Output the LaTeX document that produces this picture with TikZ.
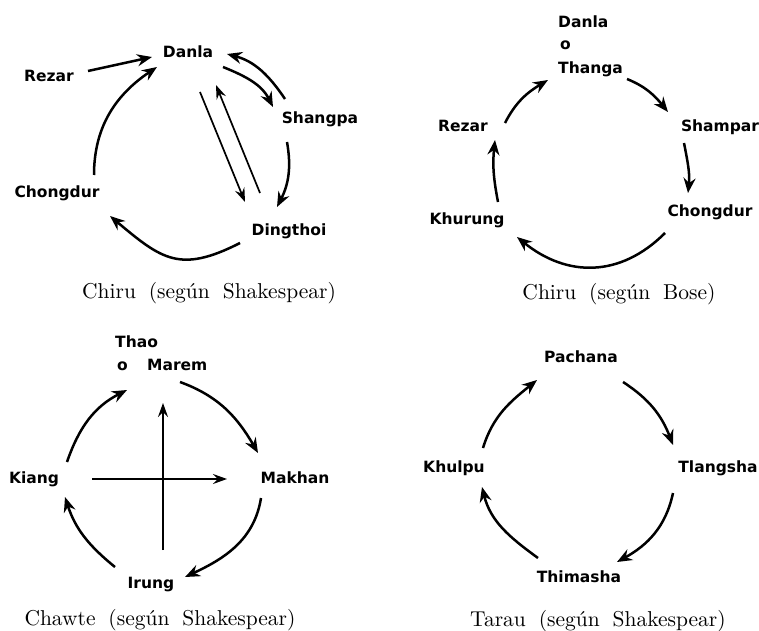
\documentclass[tikz,border=0pt]{standalone}
\usepackage{fontspec}
\usepackage{graphicx}
\newfontfamily\labfont{DejaVu Sans}
\usetikzlibrary{arrows.meta}
\tikzset{
  lab/.style={font={\labfont\bfseries\fontsize{15.5}{18}\selectfont}, inner sep=0pt, anchor=base},
  labw/.style={lab, anchor=base west},
  captext/.style={inner sep=0pt, anchor=base},
  arcarrow/.style={line width=2.5pt, -{Stealth[length=15pt,width=12pt,inset=5pt]}},
  strarrow/.style={line width=1.7pt, -{Stealth[length=14pt,width=10pt,inset=5pt]}},
}
\newcommand{\capt}[1]{\scalebox{2.15}{#1}}
\begin{document}
\begin{tikzpicture}[x=1pt,y=1pt]
\fill[white] (0,0) rectangle (759,630);
\useasboundingbox (0,0) rectangle (759,630);

% ---------- top left: Chiru (Shakespear)
\node[lab] (tlDanla) at (188,572) {Danla};
\node[lab] (tlRezar) at (49,548) {Rezar};
\node[lab] (tlShangpa) at (320,506) {Shangpa};
\node[lab] (tlChongdur) at (57,432) {Chongdur};
\node[lab] (tlDingthoi) at (289,395) {Dingthoi};
\node[captext] (tlCap) at (209,332) {\capt{Chiru\hspace{6pt}(según\hspace{6pt}Shakespear)}};

\draw[arcarrow] ([shift={(39,11)}]tlRezar.base) -- ([shift={(-36,1)}]tlDanla.base);
\draw[arcarrow] ([shift={(37,23)}]tlChongdur.base) to[out=90,in=214] ([shift={(-31,-9)}]tlDanla.base);
\draw[arcarrow] ([shift={(-49,-8)}]tlDingthoi.base) to[out=207,in=320,looseness=1.3] ([shift={(53,-18)}]tlChongdur.base);
\draw[arcarrow] ([shift={(35,-9)}]tlDanla.base) to[out=-22,in=117] ([shift={(-47,17)}]tlShangpa.base);
\draw[arcarrow] ([shift={(-35,25)}]tlShangpa.base) to[out=124,in=345] ([shift={(39,4)}]tlDanla.base);
\draw[arcarrow] ([shift={(-33,-18)}]tlShangpa.base) to[out=-80,in=63] ([shift={(-12,28)}]tlDingthoi.base);
\draw[strarrow] ([shift={(12,-34)}]tlDanla.base) -- ([shift={(-44,33)}]tlDingthoi.base);
\draw[strarrow] ([shift={(-29,42)}]tlDingthoi.base) -- ([shift={(28,-27)}]tlDanla.base);

% ---------- top right: Chiru (Bose)
\node[labw] (trDanla) at (558,602) {Danla};
\node[labw] (trO) at (560,580) {o};
\node[labw] (trThanga) at (558,556) {Thanga};
\node[lab] (trShampar) at (720,498) {Shampar};
\node[lab] (trChongdur) at (710,413) {Chongdur};
\node[lab] (trKhurung) at (467,406) {Khurung};
\node[lab] (trRezar) at (463,498) {Rezar};
\node[captext] (trCap) at (619,331) {\capt{Chiru\hspace{6pt}(según\hspace{6pt}Bose)}};

\draw[arcarrow] ([shift={(69,-5)}]trThanga.base west) to[out=-22,in=129] ([shift={(-52,20)}]trShampar.base);
\draw[arcarrow] ([shift={(-36,-11)}]trShampar.base) to[out=-79,in=84] ([shift={(-22,24)}]trChongdur.base);
\draw[arcarrow] ([shift={(-45,-16)}]trChongdur.base) to[out=225,in=321,looseness=1.1] ([shift={(50,-13)}]trKhurung.base);
\draw[arcarrow] ([shift={(31,22)}]trKhurung.base) to[out=101,in=264] ([shift={(32,-8)}]trRezar.base);
\draw[arcarrow] ([shift={(42,9)}]trRezar.base) to[out=63,in=211] ([shift={(-10,-6)}]trThanga.base west);

% ---------- bottom left: Chawte
\node[labw] (blThao) at (115,283) {Thao};
\node[labw] (blO) at (117,260) {o};
\node[labw] (blMarem) at (147,260) {Marem};
\node[lab] (blMakhan) at (295,147) {Makhan};
\node[lab] (blKiang) at (34,147) {Kiang};
\node[lab] (blIrung) at (151,42) {Irung};
\node[captext] (blCap) at (160,5) {\capt{Chawte\hspace{6pt}(según\hspace{6pt}Shakespear)}};

\draw[arcarrow] ([shift={(33,-12)}]blMarem.base west) to[out=-20,in=120] ([shift={(-37,30)}]blMakhan.base);
\draw[arcarrow] ([shift={(-34,-15)}]blMakhan.base) to[out=-99,in=25] ([shift={(34,11)}]blIrung.base);
\draw[arcarrow] ([shift={(-36,21)}]blIrung.base) to[out=141,in=288] ([shift={(31,-14)}]blKiang.base);
\draw[arcarrow] ([shift={(33,21)}]blKiang.base) to[out=71,in=207] ([shift={(-20,-20)}]blMarem.base west);
\draw[strarrow] ([shift={(58,4)}]blKiang.base) -- ([shift={(-68,4)}]blMakhan.base);
\draw[strarrow] ([shift={(12,38)}]blIrung.base) -- ([shift={(16,-33)}]blMarem.base west);

% ---------- bottom right: Tarau
\node[lab] (brPachana) at (581,268) {Pachana};
\node[lab] (brTlangsha) at (718,158) {Tlangsha};
\node[lab] (brKhulpu) at (454,158) {Khulpu};
\node[lab] (brThimasha) at (579,48) {Thimasha};
\node[captext] (brCap) at (598,4) {\capt{Tarau\hspace{6pt}(según\hspace{6pt}Shakespear)}};

\draw[arcarrow] ([shift={(42,-20)}]brPachana.base) to[out=-33,in=111] ([shift={(-45,27)}]brTlangsha.base);
\draw[arcarrow] ([shift={(-45,-21)}]brTlangsha.base) to[out=258,in=29] ([shift={(38,20)}]brThimasha.base);
\draw[arcarrow] ([shift={(-41,24)}]brThimasha.base) to[out=144,in=284] ([shift={(28,-15)}]brKhulpu.base);
\draw[arcarrow] ([shift={(29,24)}]brKhulpu.base) to[out=73,in=219] ([shift={(-44,-18)}]brPachana.base);
\end{tikzpicture}
\end{document}
